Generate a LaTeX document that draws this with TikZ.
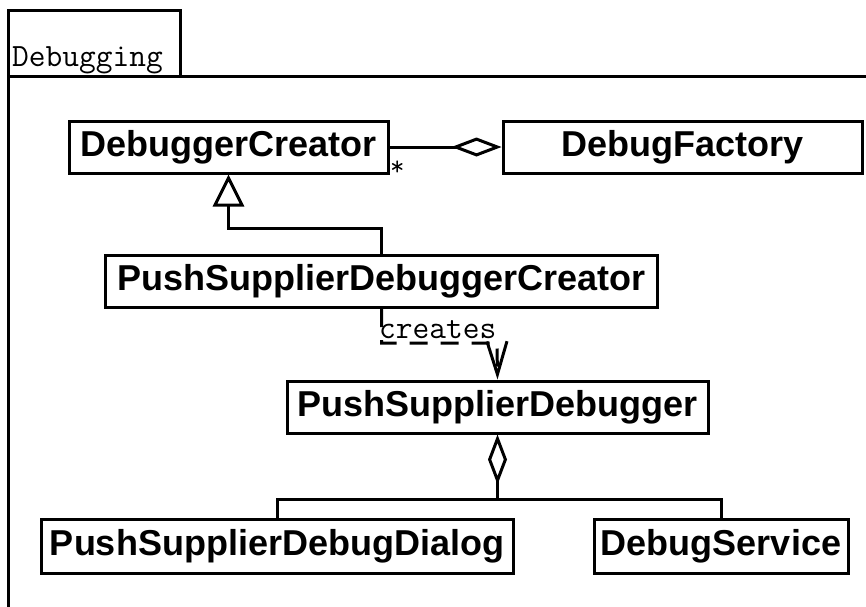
\documentclass[tikz,border=0pt]{standalone}
\usepackage{fontspec}
\setsansfont{Liberation Sans}
\usetikzlibrary{arrows.meta}
\begin{document}
\begin{tikzpicture}[x=1pt,y=-1pt,
  frame/.style={line width=3pt},
  cls/.style={draw, line width=3pt, fill=white, inner sep=0pt, minimum height=52pt,
    font=\sffamily\bfseries\fontsize{36}{40}\selectfont},
  mono/.style={inner sep=0pt, font=\ttfamily\fontsize{32.5}{34}\selectfont},
  link/.style={line width=3pt},
  gen/.style={link, -{Triangle[open, length=32pt, width=31pt, fill=white]}},
  agg/.style={link, -{Diamond[open, length=50pt, width=19pt, fill=white]}},
  dep/.style={link, dash pattern=on 18pt off 13pt, -{Straight Barb[length=33pt, width=20pt]}}]
\useasboundingbox (0,0) rectangle (866,606);
\clip (0,0) rectangle (866,606);

% package frame with its name tab
\draw[frame] (8,10) rectangle (180,76);
\draw[frame] (8,640) -- (8,76) -- (900,76);
\node[mono, anchor=base west] (pkg) at (12,66) {Debugging};

% classes
\node[cls, minimum width=319pt] (dc)   at (228.5,147) {DebuggerCreator};
\node[cls, minimum width=359pt] (df)   at (682.5,147) {DebugFactory};
\node[cls, minimum width=552pt] (psdc) at (381.5,281.5) {PushSupplierDebuggerCreator};
\node[cls, minimum width=421pt] (psd)  at (497.5,407) {PushSupplierDebugger};
\node[cls, minimum width=472pt, minimum height=54pt] (dlg) at (277,546) {PushSupplierDebugDialog};
\node[cls, minimum width=254pt, minimum height=54pt] (svc) at (721,546) {DebugService};

% DebugFactory aggregates DebuggerCreator
\draw[agg] (dc.east) -- (df.west);
\node[mono, anchor=base west, font=\ttfamily\fontsize{28}{30}\selectfont] (mult) at (390,175) {*};

% generalization
\draw[gen] (psdc.north) -- ++(0,-26) -| (dc.south);

% creates dependency
\coordinate (bend) at (497,343);
\draw[dep] (psdc.south) |- (bend) -- (psd.north);
\node[mono, anchor=base west] (crt) at (379,338) {creates};

% PushSupplierDebugger aggregates dialog and service
\coordinate (joint) at (497.5,499);
\draw[link] (dlg.north) |- (joint) -| (svc.north);
\draw[agg] (joint) -- (psd.south);
\end{tikzpicture}
\end{document}
